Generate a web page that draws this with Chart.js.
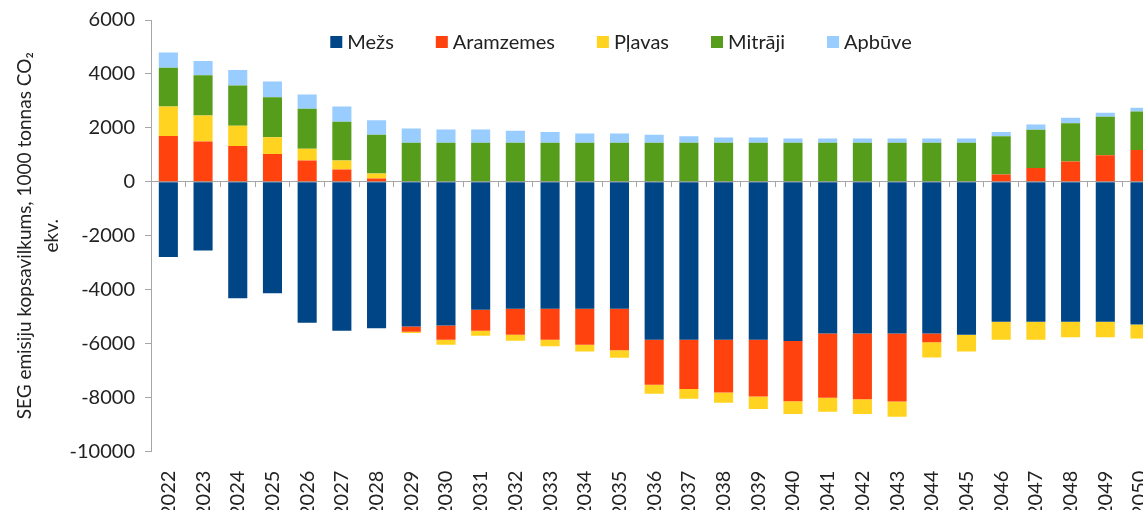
<!DOCTYPE html>
<html>
<head>
<meta charset="utf-8">
<script src="https://cdn.jsdelivr.net/npm/chart.js@4"></script>
<style>
  html, body { margin: 0; padding: 0; background: #fff; overflow: hidden; }
  #wrap { width: 1175px; height: 528px; position: relative; }
</style>
</head>
<body>
<div id="wrap"><canvas id="seg"></canvas></div>
<script>
// SEG emisiju kopsavilkums (1000 t CO2 ekv.)

var years = ['2022', '2023', '2024', '2025', '2026', '2027', '2028', '2029', '2030', '2031',
  '2032', '2033', '2034', '2035', '2036', '2037', '2038', '2039', '2040', '2041',
  '2042', '2043', '2044', '2045', '2046', '2047', '2048', '2049', '2050'];

var mezs = [-2790, -2546, -4317, -4133, -5225, -5520, -5424, -5360, -5325, -4745,
  -4700, -4700, -4700, -4700, -5850, -5850, -5850, -5850, -5900, -5620,
  -5620, -5620, -5620, -5670, -5190, -5190, -5190, -5190, -5290];

var aramzemes = [1700, 1500, 1330, 1030, 790, 460, 125, -195, -525, -775,
  -970, -1155, -1340, -1540, -1675, -1825, -1955, -2105, -2235, -2385,
  -2435, -2520, -330, 0, 270, 515, 750, 985, 1180];

var plavas = [1090, 960, 750, 620, 440, 330, 185, -50, -185, -185,
  -220, -235, -245, -280, -330, -370, -385, -470, -470, -515,
  -555, -570, -565, -615, -665, -665, -570, -570, -515];

var mitraji = [1440, 1490, 1490, 1490, 1480, 1440, 1440, 1450, 1450, 1450,
  1450, 1450, 1450, 1450, 1450, 1450, 1450, 1450, 1450, 1450,
  1450, 1450, 1450, 1450, 1425, 1415, 1425, 1430, 1430];

var apbuve = [565, 530, 580, 580, 530, 560, 530, 530, 490, 490,
  445, 395, 345, 345, 300, 245, 195, 195, 160, 160,
  160, 160, 160, 160, 150, 195, 200, 150, 135];

var yTicks = [-10000, -8000, -6000, -4000, -2000, 0, 2000, 4000, 6000];

var FONT = 'Lato, "Open Sans", sans-serif';
var TXT = '#222';
var AXIS = '#a6a6a6';

// legend drawn over the plot area, like the original
var legendBox = {
  id: 'legendBox',
  afterDraw: function (chart) {
    var ctx = chart.ctx;
    ctx.save();
    ctx.font = '20px ' + FONT;
    ctx.textBaseline = 'middle';
    var box = 12, gap = 5, spacing = 42;
    var items = chart.data.datasets.map(function (d) {
      return { text: d.label, color: d.backgroundColor, w: ctx.measureText(d.label).width };
    });
    var total = 0;
    items.forEach(function (it) { total += box + gap + it.w; });
    total += spacing * (items.length - 1);
    var x = chart.chartArea.left + 470 - total / 2;
    var y = 42;
    items.forEach(function (it) {
      ctx.fillStyle = it.color;
      ctx.fillRect(x, y - 6, box, box);
      ctx.fillStyle = TXT;
      ctx.fillText(it.text, x + box + gap, y + 1);
      x += box + gap + it.w + spacing;
    });
    ctx.restore();
  }
};

var ctx = document.getElementById('seg').getContext('2d');
var chart = new Chart(ctx, {
  type: 'bar',
  data: {
    labels: years,
    datasets: [
      { label: 'Mežs', data: mezs, backgroundColor: '#004586' },
      { label: 'Aramzemes', data: aramzemes, backgroundColor: '#ff420e' },
      { label: 'Pļavas', data: plavas, backgroundColor: '#ffd320' },
      { label: 'Mitrāji', data: mitraji, backgroundColor: '#579d1c' },
      { label: 'Apbūve', data: apbuve, backgroundColor: '#99ccff' }
    ]
  },
  options: {
    responsive: true,
    maintainAspectRatio: false,
    animation: false,
    datasets: {
      bar: { barPercentage: 0.55, categoryPercentage: 1 }
    },
    layout: { padding: { left: 11, right: 0, top: 0, bottom: 0 } },
    plugins: {
      legend: { display: false },
      tooltip: { enabled: false }
    },
    scales: {
      x: {
        stacked: true,
        grid: { display: false },
        border: { display: false },
        ticks: {
          color: TXT,
          font: { family: FONT, size: 20 },
          minRotation: 90,
          maxRotation: 90,
          autoSkip: false,
          padding: 11
        }
      },
      // zero line with tick marks between the years
      x0: {
        type: 'category',
        labels: years,
        position: { y: 0 },
        offset: true,
        grid: { offset: true, drawOnChartArea: false, tickLength: 5, tickColor: AXIS },
        border: { display: true, color: AXIS, width: 1 },
        ticks: { display: false }
      },
      y: {
        stacked: true,
        min: -10000,
        max: 6000,
        afterBuildTicks: function (axis) {
          axis.ticks = yTicks.map(function (v) { return { value: v }; });
        },
        afterFit: function (scale) { scale.width = 140; },
        grid: { drawOnChartArea: false, tickLength: 6, tickColor: AXIS },
        border: { color: AXIS, width: 1 },
        ticks: {
          color: TXT,
          font: { family: FONT, size: 20, lineHeight: 1.0 },
          padding: 10,
          callback: function (v) { return String(v); }
        },
        title: {
          display: true,
          text: ['SEG emisiju kopsavilkums, 1000 tonnas CO\u2082', 'ekv.'],
          color: TXT,
          font: { family: FONT, size: 19, lineHeight: 1.42 },
          padding: { top: 0, bottom: 0 }
        }
      }
    }
  },
  plugins: [legendBox]
});
</script>
</body>
</html>
